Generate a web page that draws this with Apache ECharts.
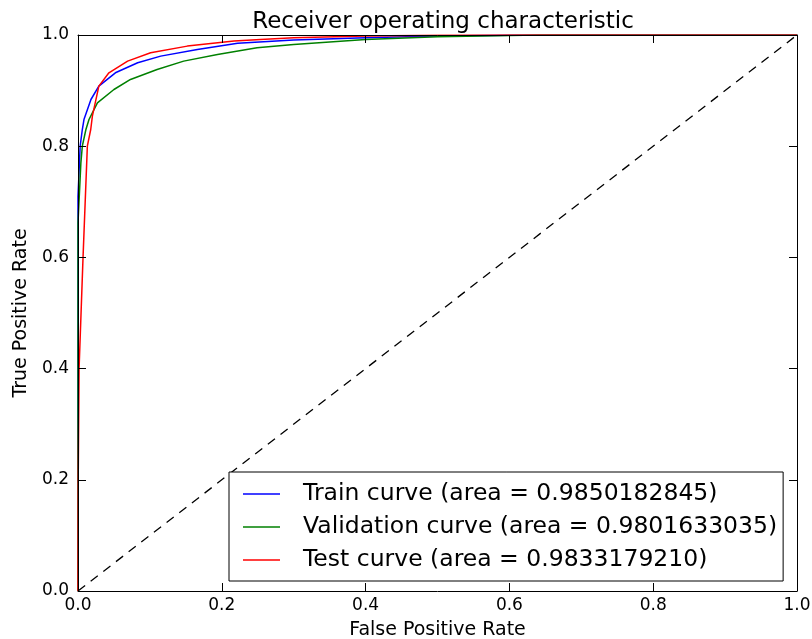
<!DOCTYPE html>
<html>
<head>
<meta charset="utf-8">
<title>ROC</title>
<script src="https://cdn.jsdelivr.net/npm/echarts@6/dist/echarts.min.js"></script>
<style>
	html, body { margin: 0; padding: 0; background: #fff; }
	#main { width: 812px; height: 639px; }
</style>
</head>
<body>
<div id="main"></div>
<script>
	// curve points: [fpr, tpr]
	var trainCurve = [
		[0, 0], [0, 0.71], [0.003, 0.8], [0.006, 0.83], [0.0083, 0.848], [0.018, 0.884],
		[0.029, 0.908], [0.052, 0.932], [0.083, 0.95], [0.115, 0.962], [0.166, 0.974],
		[0.222, 0.985], [0.3, 0.991], [0.4, 0.995], [0.5, 0.998], [0.6, 0.9995], [0.7, 1], [1, 1]
	]
	var validCurve = [
		[0, 0], [0, 0.662], [0.004, 0.77], [0.006, 0.8], [0.011, 0.83], [0.0153, 0.848],
		[0.027, 0.878], [0.05, 0.902], [0.073, 0.92], [0.11, 0.938], [0.147, 0.953],
		[0.194, 0.965], [0.249, 0.977], [0.3, 0.983], [0.4, 0.992], [0.5, 0.997], [0.64, 1], [1, 1]
	]
	var testCurve = [
		[0, 0], [0.0003, 0.2], [0.0015, 0.4], [0.007, 0.6], [0.013, 0.8], [0.0177, 0.83],
		[0.02, 0.854], [0.029, 0.908], [0.043, 0.932], [0.069, 0.953], [0.101, 0.968],
		[0.152, 0.98], [0.217, 0.989], [0.254, 0.992], [0.3, 0.995], [0.4, 0.998],
		[0.5, 0.9995], [0.6, 1], [1, 1]
	]
	var chanceLine = [[0, 0], [1, 1]]
	var seriesNames = [
		'Train curve (area = 0.9850182845)',
		'Validation curve (area = 0.9801633035)',
		'Test curve (area = 0.9833179210)'
	]

	var font = 'DejaVu Sans'

	function lineSeries(name, data, color) {
		return {
			name: name,
			type: 'line',
			data: data,
			symbol: 'none',
			lineStyle: { color: color, width: 1.5 },
			itemStyle: { color: color },
			z: 2
		}
	}

	// matplotlib classic look: ticks inside on all four sides
	function axisBase(pos, show) {
		return {
			type: 'value',
			position: pos,
			min: 0,
			max: 1,
			interval: 0.2,
			z: 5,
			axisLine: { show: true, onZero: false, lineStyle: { color: '#000', width: 1 } },
			axisTick: { show: true, inside: true, length: 8, lineStyle: { color: '#000' } },
			splitLine: { show: false },
			axisLabel: {
				show: show,
				color: '#000',
				fontFamily: font,
				fontSize: 17,
				margin: pos == 'left' ? 9 : 6,
				formatter: function (v) { return v.toFixed(1) }
			}
		}
	}

	var xBottom = axisBase('bottom', true)
	xBottom.name = 'False Positive Rate'
	xBottom.nameLocation = 'middle'
	xBottom.nameGap = 30
	xBottom.nameTextStyle = { color: '#000', fontFamily: font, fontSize: 19 }

	var yLeft = axisBase('left', true)
	yLeft.name = 'True Positive Rate'
	yLeft.nameLocation = 'middle'
	yLeft.nameGap = 47
	yLeft.nameTextStyle = { color: '#000', fontFamily: font, fontSize: 19 }

	var option = {
		backgroundColor: '#fff',
		animation: false,
		title: {
			text: 'Receiver operating characteristic',
			left: 438,
			textAlign: 'center',
			top: 6,
			textStyle: { color: '#000', fontFamily: font, fontSize: 23, fontWeight: 'normal' }
		},
		grid: { left: 78, right: 15, top: 35, bottom: 48, containLabel: false, outerBoundsMode: 'none' },
		xAxis: [xBottom, axisBase('top', false)],
		yAxis: [yLeft, axisBase('right', false)],
		legend: {
			data: seriesNames,
			orient: 'vertical',
			left: 229,
			top: 472,
			padding: [10, 6, 9, 14],
			icon: 'path://M0,6 L37,6 L37,7.5 L0,7.5 Z',
			itemWidth: 37,
			itemHeight: 14,
			itemGap: 9,
			borderColor: '#000',
			borderWidth: 1,
			borderRadius: 0,
			backgroundColor: '#fff',
			selectedMode: false,
			textStyle: { color: '#000', fontFamily: font, fontSize: 23.5, padding: [0, 0, 0, 18] }
		},
		series: [
			lineSeries(seriesNames[0], trainCurve, '#0000ff'),
			lineSeries(seriesNames[1], validCurve, '#008000'),
			lineSeries(seriesNames[2], testCurve, '#ff0000'),
			{
				name: 'chance',
				type: 'line',
				data: chanceLine,
				symbol: 'none',
				lineStyle: { color: '#000', width: 1.3, type: [9, 7] },
				z: 1
			}
		]
	}

	var myChart = echarts.init(document.getElementById('main'))
	myChart.setOption(option, true)
</script>
</body>
</html>
